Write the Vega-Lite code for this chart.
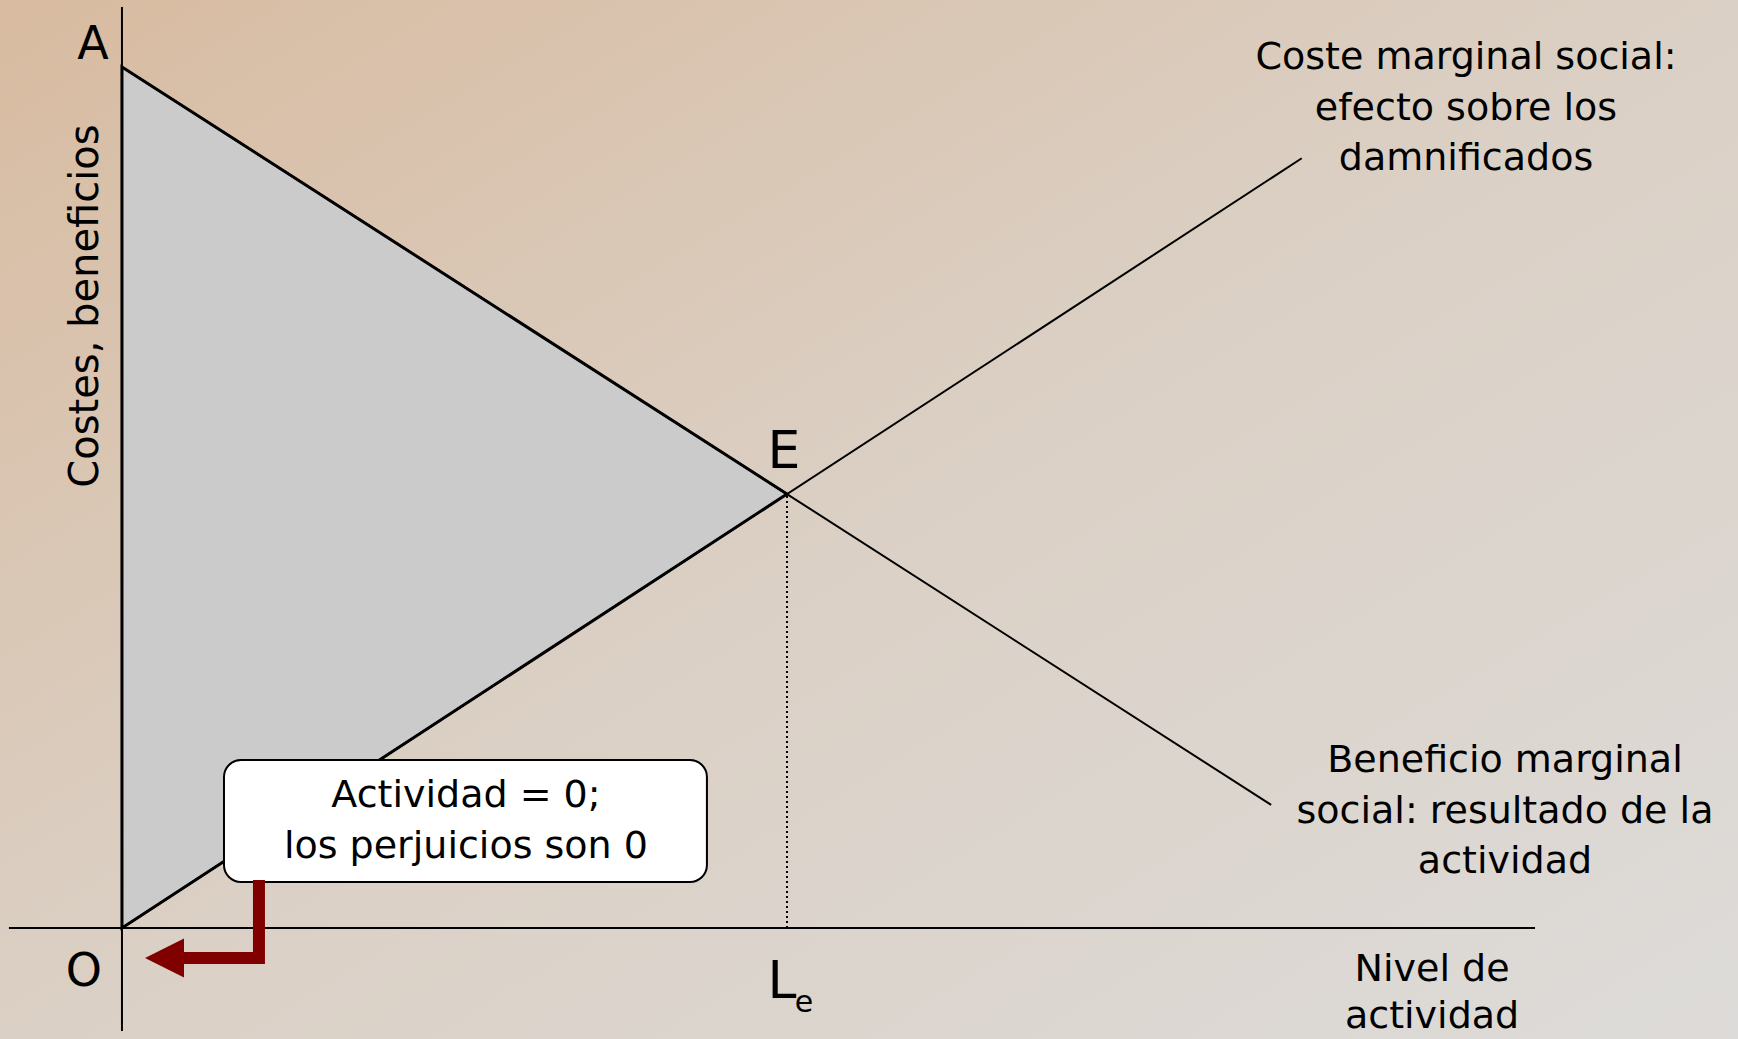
{
  "$schema": "https://vega.github.io/schema/vega-lite/v6.json",
  "width": 1738,
  "height": 1039,
  "padding": 0,
  "autosize": {"type": "fit", "contains": "padding"},
  "background": "#dbcfc3",
  "config": {"view": {"stroke": null}, "text": {"font": "DejaVu Sans", "color": "#000000"}},
  "datasets": {
    "tri": [{"x": 0, "y": 0, "y2": 10}, {"x": 5, "y": 5.04, "y2": 5.04}],
    "curves": [
      {"curve": "MC", "x": 0, "y": 0},
      {"curve": "MC", "x": 8.87, "y": 8.94},
      {"curve": "MB", "x": 0, "y": 10},
      {"curve": "MB", "x": 5, "y": 5.04},
      {"curve": "MB", "x": 8.64, "y": 1.43}
    ],
    "axes": [
      {"x": -0.85, "x2": 10.624, "y": 0, "y2": 0},
      {"x": 0, "x2": 0, "y": -1.196, "y2": 10.697}
    ],
    "guide": [{"x": 5, "y": 0, "y2": 5.04}],
    "box": [{"x": 0.767, "x2": 4.398, "y": 0.534, "y2": 1.951}],
    "arrow": [
      {"step": 1, "x": 1.03, "y": 0.557},
      {"step": 2, "x": 1.03, "y": -0.348},
      {"step": 3, "x": 0.361, "y": -0.348}
    ],
    "head": [{"x": 0.32, "y": -0.348}],
    "labels": [
      {"grp": "main", "text": "Coste marginal social:", "x": 10.105, "y": 10.105},
      {"grp": "main", "text": "efecto sobre los", "x": 10.105, "y": 9.512},
      {"grp": "main", "text": "damnificados", "x": 10.105, "y": 8.931},
      {"grp": "main", "text": "Beneficio marginal", "x": 10.398, "y": 1.94},
      {"grp": "main", "text": "social: resultado de la", "x": 10.398, "y": 1.347},
      {"grp": "main", "text": "actividad", "x": 10.398, "y": 0.767},
      {"grp": "main", "text": "Nivel de", "x": 9.85, "y": -0.488},
      {"grp": "main", "text": "actividad", "x": 9.85, "y": -1.034},
      {"grp": "main", "text": "Actividad = 0;", "x": 2.586, "y": 1.533},
      {"grp": "main", "text": "los perjuicios son 0", "x": 2.586, "y": 0.941},
      {"grp": "letter", "text": "A", "x": -0.218, "y": 10.255},
      {"grp": "letter", "text": "O", "x": -0.286, "y": -0.511},
      {"grp": "big", "text": "E", "x": 4.977, "y": 5.528},
      {"grp": "big", "text": "L", "x": 4.962, "y": -0.627},
      {"grp": "sub", "text": "e", "x": 5.128, "y": -0.871},
      {"grp": "rot", "text": "Costes, beneficios", "x": -0.271, "y": 7.224}
    ]
  },
  "layer": [
    {
      "data": {"values": [{}]},
      "mark": {
        "type": "rect",
        "fill": {
          "gradient": "linear", "x1": 0, "y1": 0, "x2": 1, "y2": 1,
          "stops": [
            {"offset": 0, "color": "#d8bba0"},
            {"offset": 0.5, "color": "#dbd0c5"},
            {"offset": 1, "color": "#dddbd9"}
          ]
        }
      },
      "encoding": {}
    },
    {
      "data": {"name": "tri"},
      "mark": {"type": "area", "fill": "#cbcbcb", "stroke": "#000000", "strokeWidth": 3, "fillOpacity": 1},
      "encoding": {
        "x": {"field": "x", "type": "quantitative", "axis": null, "scale": {"domain": [-0.917, 12.15], "nice": false, "zero": false}},
        "y": {"field": "y", "type": "quantitative", "axis": null, "scale": {"domain": [-1.289, 10.778], "nice": false, "zero": false}},
        "y2": {"field": "y2"}
      }
    },
    {
      "data": {"name": "curves"},
      "mark": {"type": "line", "color": "#000000", "strokeWidth": 2},
      "encoding": {
        "x": {"field": "x", "type": "quantitative", "axis": null, "scale": {"domain": [-0.917, 12.15], "nice": false, "zero": false}},
        "y": {"field": "y", "type": "quantitative", "axis": null, "scale": {"domain": [-1.289, 10.778], "nice": false, "zero": false}},
        "detail": {"field": "curve"}
      }
    },
    {
      "data": {"name": "axes"},
      "mark": {"type": "rule", "color": "#000000", "strokeWidth": 2},
      "encoding": {
        "x": {"field": "x", "type": "quantitative", "axis": null},
        "x2": {"field": "x2"},
        "y": {"field": "y", "type": "quantitative", "axis": null},
        "y2": {"field": "y2"}
      }
    },
    {
      "data": {"name": "guide"},
      "mark": {"type": "rule", "color": "#000000", "strokeWidth": 2, "strokeDash": [2, 3]},
      "encoding": {
        "x": {"field": "x", "type": "quantitative", "axis": null},
        "y": {"field": "y", "type": "quantitative", "axis": null},
        "y2": {"field": "y2"}
      }
    },
    {
      "data": {"name": "box"},
      "mark": {"type": "rect", "fill": "#ffffff", "stroke": "#000000", "strokeWidth": 2, "cornerRadius": 17},
      "encoding": {
        "x": {"field": "x", "type": "quantitative", "axis": null},
        "x2": {"field": "x2"},
        "y": {"field": "y", "type": "quantitative", "axis": null},
        "y2": {"field": "y2"}
      }
    },
    {
      "data": {"name": "arrow"},
      "mark": {"type": "line", "color": "#800000", "strokeWidth": 12, "strokeCap": "butt", "strokeJoin": "miter"},
      "encoding": {
        "x": {"field": "x", "type": "quantitative", "axis": null},
        "y": {"field": "y", "type": "quantitative", "axis": null},
        "order": {"field": "step"}
      }
    },
    {
      "data": {"name": "head"},
      "mark": {"type": "point", "shape": "M-1,0L1,-1L1,1Z", "filled": true, "color": "#800000", "size": 1521, "opacity": 1, "strokeWidth": 0},
      "encoding": {
        "x": {"field": "x", "type": "quantitative", "axis": null},
        "y": {"field": "y", "type": "quantitative", "axis": null}
      }
    },
    {
      "data": {"name": "labels"},
      "transform": [{"filter": "datum.grp === 'main'"}],
      "mark": {"type": "text", "fontSize": 38, "align": "center", "baseline": "middle"},
      "encoding": {
        "x": {"field": "x", "type": "quantitative", "axis": null},
        "y": {"field": "y", "type": "quantitative", "axis": null},
        "text": {"field": "text"}
      }
    },
    {
      "data": {"name": "labels"},
      "transform": [{"filter": "datum.grp === 'letter'"}],
      "mark": {"type": "text", "fontSize": 46, "align": "center", "baseline": "middle"},
      "encoding": {
        "x": {"field": "x", "type": "quantitative", "axis": null},
        "y": {"field": "y", "type": "quantitative", "axis": null},
        "text": {"field": "text"}
      }
    },
    {
      "data": {"name": "labels"},
      "transform": [{"filter": "datum.grp === 'big'"}],
      "mark": {"type": "text", "fontSize": 52, "align": "center", "baseline": "middle"},
      "encoding": {
        "x": {"field": "x", "type": "quantitative", "axis": null},
        "y": {"field": "y", "type": "quantitative", "axis": null},
        "text": {"field": "text"}
      }
    },
    {
      "data": {"name": "labels"},
      "transform": [{"filter": "datum.grp === 'sub'"}],
      "mark": {"type": "text", "fontSize": 30, "align": "center", "baseline": "middle"},
      "encoding": {
        "x": {"field": "x", "type": "quantitative", "axis": null},
        "y": {"field": "y", "type": "quantitative", "axis": null},
        "text": {"field": "text"}
      }
    },
    {
      "data": {"name": "labels"},
      "transform": [{"filter": "datum.grp === 'rot'"}],
      "mark": {"type": "text", "fontSize": 40, "align": "center", "baseline": "middle", "angle": 270},
      "encoding": {
        "x": {"field": "x", "type": "quantitative", "axis": null},
        "y": {"field": "y", "type": "quantitative", "axis": null},
        "text": {"field": "text"}
      }
    }
  ]
}
